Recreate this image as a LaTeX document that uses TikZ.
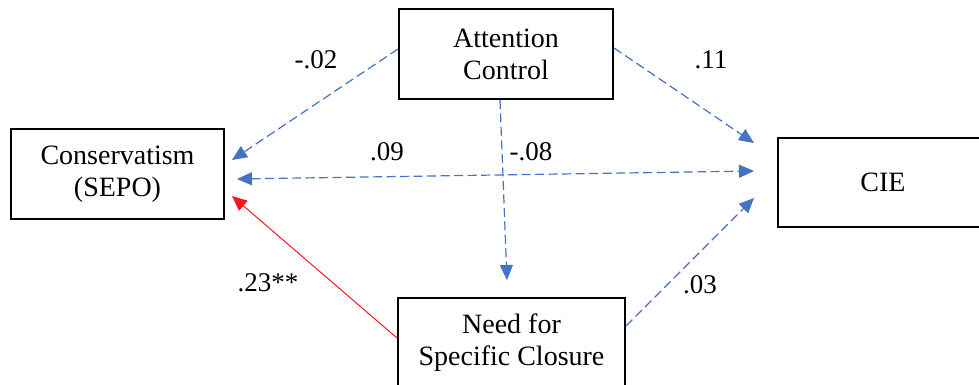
\documentclass[tikz,border=0pt]{standalone}
\usepackage{fontspec}
\setmainfont{Liberation Serif}
\usetikzlibrary{arrows.meta,calc}
\definecolor{pathblue}{RGB}{68,114,196}
\definecolor{pathred}{RGB}{255,20,30}
\begin{document}
\begin{tikzpicture}[x=1pt,y=-1pt,
  box/.style={draw=black,line width=2pt,fill=white,align=center,inner sep=0pt,
    font=\fontsize{28}{32}\selectfont},
  dashpath/.style={draw=pathblue,line width=1.2pt,dash pattern=on 9pt off 4.5pt,
    -{Triangle[length=15pt,width=13pt]}},
  dashboth/.style={draw=pathblue,line width=1.2pt,dash pattern=on 9pt off 4.5pt,
    {Triangle[length=15pt,width=13pt]}-{Triangle[length=15pt,width=13pt]}},
  redpath/.style={draw=pathred,line width=1pt,-{Triangle[length=15pt,width=13pt]}},
  coef/.style={font=\fontsize{27}{30}\selectfont,inner sep=0pt}]
\useasboundingbox (0,0) rectangle (979,385);
\begin{scope}
\clip (0,0) rectangle (979,385);
\node[box,minimum width=214pt,minimum height=90pt] (ac) at (506,54) {Attention\\Control};
\node[box,minimum width=213pt,minimum height=90pt] (cons) at (117.5,174) {Conservatism\\(SEPO)};
\node[box,minimum width=210pt,minimum height=89pt] (cie) at (883,182.5) {CIE};
\node[box,minimum width=227pt,minimum height=90pt] (need) at (511.5,343) {Need for\\Specific Closure};
\end{scope}

\draw[dashpath] ([yshift=5pt]ac.west) -- ([xshift=7pt,yshift=14pt]cons.east);
\draw[dashpath] ([yshift=6pt]ac.east) -- ([xshift=-23pt,yshift=39.5pt]cie.west);
\draw[dashpath] ([xshift=-6pt]ac.south) -- ([xshift=-4.5pt,yshift=17pt]need.north);
\draw[dashboth] ([xshift=12pt,yshift=-5pt]cons.east) -- ([xshift=-23pt,yshift=11.5pt]cie.west);
\draw[dashpath] ([yshift=17pt]need.east) -- ([xshift=-23pt,yshift=-15.5pt]cie.west);
\draw[redpath] ([yshift=5pt]need.west) -- ([xshift=7pt,yshift=-22pt]cons.east);

\node[coef] (c1) at (316,60) {-.02};
\node[coef] (c2) at (711,60) {.11};
\node[coef] (c3) at (387,152) {.09};
\node[coef] (c4) at (531,152) {-.08};
\node[coef] (c5) at (268,283) {.23**};
\node[coef] (c6) at (700,285) {.03};
\end{tikzpicture}
\end{document}
